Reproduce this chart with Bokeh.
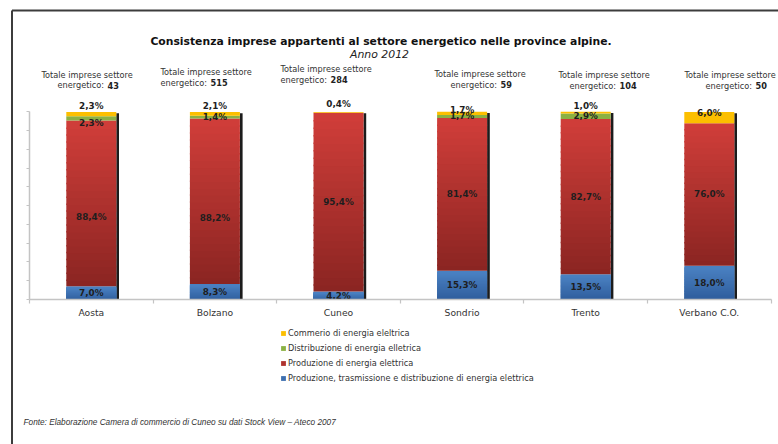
import numpy as np
from bokeh.plotting import figure
from bokeh.models import (Range1d, LinearAxis, FixedTicker, ColumnDataSource,
                          Legend, LegendItem)
from bokeh.core.properties import value
from bokeh.embed import file_html
from bokeh.resources import INLINE

# ---------------- data ----------------
provinces = ["Aosta", "Bolzano", "Cuneo", "Sondrio", "Trento", "Verbano C.O."]
totale_imprese = [43, 515, 284, 59, 104, 50]
prod_trasm_distr = [7.0, 8.3, 4.2, 15.3, 13.5, 18.0]      # blue
produzione = [88.4, 88.2, 95.4, 81.4, 82.7, 76.0]         # red
distribuzione = [2.3, 1.4, 0.0, 1.7, 2.9, 0.0]            # green
commercio = [2.3, 2.1, 0.4, 1.7, 1.0, 6.0]                # yellow
y_ticks = [0, 10, 20, 30, 40, 50, 60, 70, 80, 90, 100]

title_text = "Consistenza imprese appartenti al settore energetico nelle province alpine."
subtitle_text = "Anno 2012"
legend_labels = ["Commerio di energia eleltrica",
                 "Distribuzione di energia elletrica",
                 "Produzione di energia elettrica",
                 "Produzione, trasmissione e distribuzione di energia elettrica"]
source_text = "Fonte: Elaborazione Camera di commercio di Cuneo su dati Stock View \u2013 Ateco 2007"
tot_line1 = "Totale imprese settore"
tot_line2 = "energetico: "

# ---------------- layout / style ----------------
W, H, OFF = 778, 444, 0
AX_X, UNIT_X = 29.0, 123.6
AX_Y, UNIT_Y = 299.0, 1.876


def X(px):
    return (px - AX_X) / UNIT_X


def Y(py):
    return (AX_Y - py) / UNIT_Y


FONT = value("DejaVu Sans")
C_YEL = "#fcbf00"
C_GRN = "#8bb143"
RED_TOP, RED_BOT = (208, 62, 58), (138, 36, 33)
BLU_TOP, BLU_BOT = (74, 129, 194), (46, 92, 155)

# label vertical offsets in px (positive = up), per province
dy_blue = [0, 0, 0, 0, 0, 0]
dy_red = [-13.7, -17.3, 0, 0, 0, 0]
dy_green = [-4.5, 0, 0, 0, 0, 0]
dy_yellow = [7.6, 7.4, 7.8, 3.8, 6.4, 5.0]

# positions of the "Totale imprese" notes (reference px)
tot_x1 = [41, 160, 280, 434, 558, 684]
tot_y1 = [74, 71, 68, 73, 74, 74]
tot_x2 = [57, 160, 280, 450, 569, 705]
tot_y2 = [84.7, 82, 79, 84, 85, 85]
NUM_GAP = 50

p = figure(width=W, height=H, title=None,
           x_range=Range1d(X(OFF), X(OFF + W)),
           y_range=Range1d(Y(OFF + H), Y(OFF)),
           output_backend="svg", toolbar_location=None,
           x_axis_location=None, y_axis_location=None,
           min_border=0, outline_line_color=None)
p.xgrid.visible = False
p.ygrid.visible = False
p.background_fill_color = "white"
p.border_fill_color = "white"

n = len(provinces)
xc = np.arange(n) + 0.5
bw = 50.0 / UNIT_X

blue = np.array(prod_trasm_distr)
red = np.array(produzione)
green = np.array(distribuzione)
yellow = np.array(commercio)
b_top = blue
r_top = b_top + red
g_top = r_top + green
y_top = g_top + yellow


def hexcol(c):
    return "#%02x%02x%02x" % tuple(int(round(v)) for v in c)


def gradient_source(bottom, top, c_top, c_bot, nslices=24):
    xs, bs, ts, cs = [], [], [], []
    ov = 1.5 / UNIT_Y
    for k in range(nslices):
        lo, hi = k / nslices, (k + 1) / nslices
        m = (k + 0.5) / nslices
        col = hexcol([c_bot[j] * (1 - m) + c_top[j] * m for j in range(3)])
        for i in range(n):
            b = bottom[i] + (top[i] - bottom[i]) * lo
            if k > 0:
                b = max(bottom[i], b - ov)
            xs.append(xc[i])
            bs.append(b)
            ts.append(bottom[i] + (top[i] - bottom[i]) * hi)
            cs.append(col)
    return ColumnDataSource(dict(x=xs, bottom=bs, top=ts, color=cs))


# shadow on right side of each bar
sw = 2.7 / UNIT_X
p.vbar(x=xc + bw / 2 + sw / 2, bottom=0, top=y_top - 1.3 / UNIT_Y, width=sw,
       fill_color="#1c1c1c", line_color=None)

NS = 24
src_b = gradient_source(np.zeros(n), b_top, BLU_TOP, BLU_BOT, NS)
src_r = gradient_source(b_top, r_top, RED_TOP, RED_BOT, NS)
r_blue = p.vbar(x="x", bottom="bottom", top="top", width=bw, source=src_b,
                fill_color="color", line_color=None)
r_red = p.vbar(x="x", bottom="bottom", top="top", width=bw, source=src_r,
               fill_color="color", line_color=None)
r_green = p.vbar(x=xc, bottom=r_top, top=g_top, width=bw,
                 fill_color=C_GRN, line_color=None)
r_yel = p.vbar(x=xc, bottom=g_top, top=y_top, width=bw,
               fill_color=C_YEL, line_color=None)

# ---------------- value labels ----------------
lx, ly, lt = [], [], []
for vals, bots, dys in ((blue, np.zeros(n), dy_blue), (red, b_top, dy_red),
                        (green, r_top, dy_green), (yellow, g_top, dy_yellow)):
    for i in range(n):
        if vals[i] <= 0:
            continue
        lx.append(xc[i])
        ly.append(bots[i] + vals[i] / 2 + dys[i] / UNIT_Y)
        lt.append(("%.1f" % vals[i]).replace(".", ",") + "%")
p.text(x=lx, y=ly, text=lt, text_font=FONT, text_font_style="bold",
       text_font_size="8.8px", text_color="#1e1e1e",
       text_align="center", text_baseline="middle")

# ---------------- axes ----------------
yaxis = LinearAxis(fixed_location=0, bounds=(0, 100),
                   ticker=FixedTicker(ticks=y_ticks, minor_ticks=[]),
                   major_label_overrides={t: "" for t in y_ticks},
                   axis_line_color="#c4c4c4", axis_line_width=1.5,
                   major_tick_line_color="#c4c4c4", major_tick_line_width=1.2,
                   major_tick_out=3, major_tick_in=0,
                   minor_tick_line_color=None)
p.add_layout(yaxis, "left")

xaxis = LinearAxis(fixed_location=0, bounds=(0, n),
                   ticker=FixedTicker(ticks=list(xc), minor_ticks=list(range(n + 1))),
                   major_label_overrides={float(xc[i]): provinces[i] for i in range(n)},
                   axis_line_color="#c4c4c4", axis_line_width=1.5,
                   major_tick_line_color=None, major_tick_out=0, major_tick_in=0,
                   minor_tick_line_color="#c4c4c4", minor_tick_line_width=1.2,
                   minor_tick_out=4, minor_tick_in=0,
                   major_label_standoff=3,
                   major_label_text_font="DejaVu Sans",
                   major_label_text_font_size="9.2px",
                   major_label_text_color="#333333")
p.add_layout(xaxis, "below")

# ---------------- titles ----------------
p.text(x=[X(380.5)], y=[Y(41)], text=[title_text], text_font=FONT,
       text_font_style="bold", text_font_size="10.8px", text_color="#111111",
       text_align="center", text_baseline="middle")
p.text(x=[X(379)], y=[Y(54)], text=[subtitle_text], text_font=FONT,
       text_font_style="italic", text_font_size="10.9px", text_color="#222222",
       text_align="center", text_baseline="middle")

# totals notes
p.text(x=[X(v) for v in tot_x1], y=[Y(v) for v in tot_y1], text=[tot_line1] * n,
       text_font=FONT, text_font_size="8.2px", text_color="#333333",
       text_align="left", text_baseline="middle")
p.text(x=[X(v) for v in tot_x2], y=[Y(v) for v in tot_y2], text=[tot_line2] * n,
       text_font=FONT, text_font_size="8.2px", text_color="#333333",
       text_align="left", text_baseline="middle")
p.text(x=[X(v + NUM_GAP) for v in tot_x2], y=[Y(v) for v in tot_y2],
       text=[str(t) for t in totale_imprese],
       text_font=FONT, text_font_style="bold", text_font_size="8.2px",
       text_color="#222222", text_align="left", text_baseline="middle")

# source note
p.text(x=[X(23)], y=[Y(422)], text=[source_text], text_font=value("Liberation Sans"),
       text_font_style="italic", text_font_size="8.25px", text_color="#333333",
       text_align="left", text_baseline="middle")

# outer frame lines (left + top)
p.segment(x0=[X(11.5), X(11.5)], y0=[Y(10), Y(10)], x1=[X(11.5), X(OFF + W + 5)],
          y1=[Y(OFF + H + 5), Y(10)], line_color="#3c3c3c", line_width=2)

# ---------------- legend ----------------
legend = Legend(items=[
    LegendItem(label=legend_labels[0], renderers=[r_yel]),
    LegendItem(label=legend_labels[1], renderers=[r_green]),
    LegendItem(label=legend_labels[2], renderers=[r_red], index=(NS // 2) * n),
    LegendItem(label=legend_labels[3], renderers=[r_blue], index=(NS // 2) * n),
], location=(280, 61), orientation="vertical",
    glyph_width=6, glyph_height=6, label_height=6, spacing=5,
    label_standoff=2, padding=0, margin=0,
    label_text_font="DejaVu Sans", label_text_font_size="8.2px",
    label_text_color="#333333", border_line_color=None,
    background_fill_alpha=0)
p.add_layout(legend, "center")

open("out.html", "w").write(file_html(p, INLINE))
